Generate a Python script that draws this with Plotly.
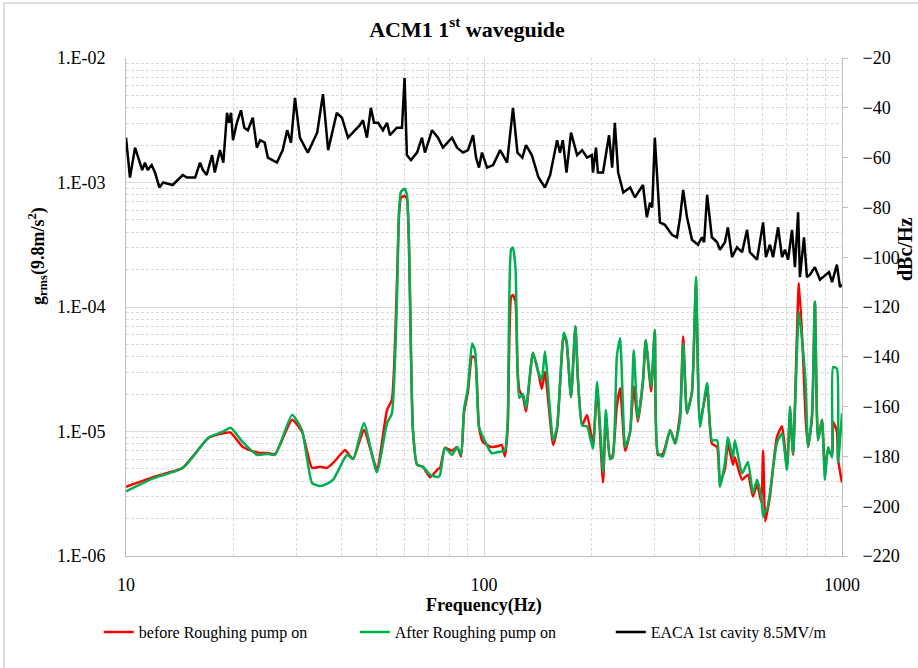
import plotly.graph_objects as go

# ---- accelerometer spectra (shared frequency grid, Hz) ----
acc_freq = [10.0, 11.9, 14.4, 17.0, 18.7, 19.6, 21.2, 23.2, 24.8, 26.1, 29.1, 31.0, 33.1, 34.8,
            36.4, 37.9, 40.9, 41.5, 43.1, 46.2, 50.2, 53.6, 55.3, 57.1, 57.9, 58.6, 60.0, 60.9,
            61.7, 62.5, 63.3, 65.0, 67.5, 70.7, 74.4, 75.4, 77.8, 81.4, 84.1, 86.3, 87.9, 90.2,
            92.6, 94.4, 96.8, 99.4, 105, 109, 112, 114.5, 116.5, 119, 120.5, 122.5, 124, 125.5,
            128.5, 131, 137, 142, 145, 148, 156, 160, 167, 170, 175, 180, 183, 188, 194, 201.5,
            207, 215, 219, 225, 229, 235, 240, 248, 256, 262, 269, 278, 283, 293, 300, 306, 316,
            331, 342, 353, 360, 369, 381, 391, 401, 420, 433, 448, 456, 471, 480, 496, 502, 526,
            546, 564, 579, 595, 602, 610, 617, 629, 658, 680, 702, 716, 730, 758, 778, 791, 804,
            825, 840, 857, 879, 896, 914, 938, 944, 968, 975, 1000]

after_pump = [3.3e-6, 4.2e-6, 5.1e-6, 8.9e-6, 1.0e-5, 1.07e-5, 8.2e-6, 6.5e-6, 6.6e-6, 6.5e-6,
              1.36e-5, 1.03e-5, 3.85e-6, 3.65e-6, 3.8e-6, 4.1e-6, 6.2e-6, 6.5e-6, 6.0e-6, 1.17e-5,
              4.7e-6, 1.17e-5, 1.4e-5, 1.1e-4, 6.0e-4, 8.4e-4, 8.9e-4, 8.0e-4, 3.45e-4, 4.5e-5,
              1.03e-5, 5.4e-6, 5.2e-6, 4.5e-6, 4.3e-6, 4.5e-6, 7.4e-6, 6.5e-6, 7.5e-6, 6.5e-6,
              1.49e-5, 2.27e-5, 5.1e-5, 4.5e-5, 1.09e-5, 9.0e-6, 6.7e-6, 6.8e-6, 6.9e-6, 7.1e-6,
              1.2e-5, 2.9e-4, 3.0e-4, 2.0e-4, 3.3e-5, 1.86e-5, 2.0e-5, 1.55e-5, 4.3e-5, 2.95e-5,
              2.6e-5, 4.4e-5, 8.5e-6, 1.09e-5, 6.2e-5, 5.4e-5, 1.89e-5, 7.0e-5, 2.6e-5, 1.12e-5,
              1.1e-5, 7.3e-6, 2.5e-5, 4.7e-6, 1.49e-5, 6.0e-6, 6.2e-6, 4.0e-5, 5.6e-5, 7.5e-6,
              1.0e-5, 4.5e-5, 1.25e-5, 2.6e-5, 5.4e-5, 2.3e-5, 6.5e-5, 6.7e-6, 6.3e-6, 1.03e-5,
              8.0e-6, 1.25e-5, 5.1e-5, 1.41e-5, 2.04e-5, 1.74e-4, 1.09e-5, 2.45e-5, 8.5e-6,
              8.5e-6, 3.6e-6, 5.6e-6, 9.0e-6, 6.2e-6, 8.5e-6, 4.6e-6, 5.7e-6, 3.2e-6, 4.1e-6,
              3.0e-6, 2.06e-6, 2.3e-6, 2.34e-6, 3.2e-6, 8.1e-6, 9.7e-6, 4.9e-6, 1.58e-5, 6.7e-6,
              9.2e-5, 4.5e-5, 2.5e-5, 7.5e-6, 1.41e-5, 1.1e-4, 8.5e-6, 1.24e-5, 4.1e-6, 7.5e-6,
              6.2e-6, 3.3e-5, 3.2e-5, 5.6e-6, 1.4e-5]

before_pump = [3.6e-6, 4.3e-6, 5.1e-6, 8.9e-6, 9.7e-6, 9.8e-6, 7.5e-6, 6.8e-6, 6.7e-6, 6.6e-6,
               1.24e-5, 1.0e-5, 5.1e-6, 5.2e-6, 5.1e-6, 5.6e-6, 7.1e-6, 6.8e-6, 6.0e-6, 1.03e-5,
               5.0e-6, 1.49e-5, 1.8e-5, 1.5e-4, 5.5e-4, 7.5e-4, 7.8e-4, 7.4e-4, 3.3e-4, 4.5e-5,
               1.03e-5, 5.4e-6, 5.2e-6, 4.3e-6, 5.0e-6, 5.1e-6, 7.4e-6, 7.0e-6, 7.5e-6, 6.3e-6,
               1.4e-5, 2.1e-5, 4.0e-5, 3.9e-5, 1.09e-5, 8.2e-6, 7.5e-6, 7.6e-6, 7.8e-6, 6.3e-6,
               1.1e-5, 1.2e-4, 1.25e-4, 1.1e-4, 3.3e-5, 2.15e-5, 1.9e-5, 1.45e-5, 4.3e-5, 2.95e-5,
               2.2e-5, 3.0e-5, 7.8e-6, 1.05e-5, 6.0e-5, 5.2e-5, 1.89e-5, 7.0e-5, 2.6e-5, 1.12e-5,
               1.36e-5, 8.0e-6, 2.2e-5, 3.9e-6, 1.3e-5, 6.0e-6, 6.5e-6, 1.6e-5, 2.23e-5, 7.0e-6,
               1.0e-5, 2.3e-5, 1.2e-5, 2.5e-5, 5.4e-5, 2.1e-5, 6.5e-5, 6.5e-6, 6.6e-6, 1.03e-5,
               8.0e-6, 1.4e-5, 5.8e-5, 1.4e-5, 2.1e-5, 1.5e-4, 1.2e-5, 2.2e-5, 8.0e-6,
               7.5e-6, 3.9e-6, 5.0e-6, 8.0e-6, 5.4e-6, 6.2e-6, 4.1e-6, 4.5e-6, 3.0e-6, 3.8e-6,
               2.7e-6, 7.0e-6, 1.9e-6, 2.2e-6, 3.0e-6, 9.0e-6, 1.1e-5, 5.2e-6, 1.4e-5, 6.5e-6,
               1.56e-4, 4.2e-5, 1.3e-5, 7.5e-6, 1.3e-5, 1.1e-4, 8.5e-6, 1.24e-5, 5.0e-6, 7.0e-6,
               6.5e-6, 1.2e-5, 1.0e-5, 6.0e-6, 3.9e-6]

# ---- cavity phase noise (dBc/Hz) ----
cav_freq = [10.0, 10.26, 10.6, 10.8, 11.1, 11.3, 11.5, 11.8, 12.05, 12.4, 12.7, 13.5, 13.9, 14.4,
            14.8, 15.6, 16.1, 16.4, 16.8, 17.4, 17.7, 18.3, 18.7, 19.15, 19.4, 19.65, 19.9, 20.4,
            20.95, 21.4, 21.9, 22.6, 23.2, 23.7, 24.4, 24.9, 26.4, 27.4, 28.2, 28.9, 29.65, 30.6,
            32.2, 34.2, 35.5, 36.7, 38.8, 40.1, 41.7, 45.0, 45.9, 47.1, 48.3, 49.3, 50.6, 52.2,
            53.6, 54.6, 57.1, 59.0, 60.0, 60.9, 62.5, 65.0, 67.1, 68.4, 71.6, 74.4, 76.8, 81.4,
            84.1, 87.4, 90.2, 93.2, 95.0, 96.8, 98.7, 102, 106, 111, 116, 120.5, 124, 128, 131,
            136, 142, 148, 153, 160, 163, 166, 170, 175, 182, 188, 194, 200, 201.5, 205.5, 208,
            215, 223.5, 228, 232, 237, 245, 256, 264, 269, 278, 285, 291, 295, 300, 310, 320, 335,
            346, 353, 360, 369, 381, 396, 406, 412, 420, 433, 448, 456, 471, 480, 493, 509, 526,
            543, 553, 579, 590, 602, 613, 629, 642, 663, 680, 693, 707, 725, 739, 754, 763, 783,
            798, 814, 840, 868, 902, 920, 938, 968, 987, 1000]

cav_dbc = [-52, -68, -56, -60, -65, -62, -65, -63, -66, -72, -70, -71, -69, -67,
           -68, -68, -62, -65, -67, -59, -66, -57, -62, -42, -46, -42, -53, -46,
           -41, -48, -49, -44, -56, -53, -54, -60, -62, -57, -49, -54, -36, -52,
           -58, -50, -34.5, -57, -42, -44, -52, -47, -45, -52, -40, -46, -46, -49,
           -46, -51, -48, -48, -28, -59, -61, -58, -52, -58, -49, -52, -56, -52,
           -56, -58, -57, -51, -60, -64, -58, -64, -63, -57, -62, -40, -58, -60, -55,
           -59, -68, -72, -67, -53, -58, -53, -66, -50, -59, -57, -60, -59, -66, -56, -66,
           -66, -51, -64, -46, -66, -74, -72, -76, -74, -71, -84, -78, -80, -52, -86, -87, -91,
           -92, -84, -73, -84, -93, -95, -92, -94, -75, -92, -94, -97, -94, -88, -100, -96, -98,
           -89, -98, -101, -94, -86, -100, -95, -100, -88, -100, -97, -101, -89, -104, -82, -108, -92,
           -108, -107, -104, -109, -107, -106, -110, -103, -112, -111]

# axis decorations
y_tickvals = [1e-6, 1e-5, 1e-4, 1e-3, 1e-2]
y_ticktext = ["1.E-06", "1.E-05", "1.E-04", "1.E-03", "1.E-02"]
x_tickvals = [10, 100, 1000]
x_ticktext = ["10", "100", "1000"]

FONT = "Liberation Serif"
GRID = "#d9d9d9"
AXIS = "#bfbfbf"

minor_x = [m * 10 ** k for k in (1, 2) for m in range(2, 10)]
minor_y = [m * 10.0 ** k for k in (-6, -5, -4, -3) for m in range(2, 10)]

fig = go.Figure()
fig.add_trace(go.Scatter(x=acc_freq, y=before_pump, name="before Roughing pump on",
                         mode="lines", line=dict(color="#ff0000", width=2.5, shape="spline", smoothing=0.5)))
fig.add_trace(go.Scatter(x=acc_freq, y=after_pump, name="After Roughing pump on",
                         mode="lines", line=dict(color="#00b050", width=2.5, shape="spline", smoothing=0.5)))
fig.add_trace(go.Scatter(x=cav_freq, y=cav_dbc, name="EACA 1st cavity 8.5MV/m", yaxis="y2",
                         mode="lines", line=dict(color="#000000", width=2.5)))

fig.update_layout(
    width=918, height=668,
    margin=dict(l=126, r=76, t=58, b=112),
    paper_bgcolor="white", plot_bgcolor="white",
    font=dict(family=FONT, size=18, color="#000000"),
    showlegend=True,
    legend=dict(orientation="h", x=-0.038, xanchor="left", y=-0.153, yanchor="middle",
                font=dict(family=FONT, size=16), entrywidth=211, entrywidthmode="pixels",
                bgcolor="rgba(0,0,0,0)"),
    xaxis=dict(type="log", range=[1, 3], tickmode="array", tickvals=x_tickvals, ticktext=x_ticktext,
               showgrid=True, gridcolor=GRID, gridwidth=1, showline=True, linecolor=AXIS,
               ticks="", ticklabelstandoff=12, zeroline=False,
               minor=dict(tickmode="array", tickvals=minor_x, showgrid=True, gridcolor=GRID,
                          griddash="3px,2px", gridwidth=1, ticks="")),
    yaxis=dict(type="log", range=[-6, -2], tickmode="array", tickvals=y_tickvals, ticktext=y_ticktext,
               showgrid=True, gridcolor=GRID, gridwidth=1, showline=True, linecolor=AXIS,
               ticks="", ticklabelstandoff=16, zeroline=False,
               minor=dict(tickmode="array", tickvals=minor_y, showgrid=True, gridcolor=GRID,
                          griddash="3px,2px", gridwidth=1, ticks="")),
    yaxis2=dict(overlaying="y", side="right", range=[-220, -20], dtick=20, tick0=-20,
                showgrid=False, showline=True, linecolor=AXIS, ticks="outside", ticklen=5,
                tickcolor=AXIS, ticklabelstandoff=11, zeroline=False),
    title=dict(text="<b>ACM1 1<sup>st</sup> waveguide</b>", x=467 / 918, xanchor="center",
               y=1 - 29 / 668, yanchor="middle", font=dict(family=FONT, size=22)),
    shapes=[dict(type="rect", xref="paper", yref="paper", x0=-0.1704, x1=1.2, y0=-0.3, y1=1.1104,
                 line=dict(color=AXIS, width=1), fillcolor="rgba(0,0,0,0)", layer="below")],
    annotations=[
        dict(text="<b>g<sub>rms</sub>(9.8m/s<sup>2</sup>)</b>", xref="paper", yref="paper",
             x=(38 - 126) / 716, y=(556 - 256) / 498, textangle=-90, showarrow=False,
             xanchor="center", yanchor="middle", font=dict(family=FONT, size=18)),
        dict(text="<b>dBc/Hz</b>", xref="paper", yref="paper",
             x=(905 - 126) / 716, y=(556 - 249) / 498, textangle=-90, showarrow=False,
             xanchor="center", yanchor="middle", font=dict(family=FONT, size=20)),
        dict(text="<b>Frequency(Hz)</b>", xref="paper", yref="paper",
             x=0.5, y=(556 - 605) / 498, showarrow=False,
             xanchor="center", yanchor="middle", font=dict(family=FONT, size=18)),
    ],
)

fig.write_html("out.html")
